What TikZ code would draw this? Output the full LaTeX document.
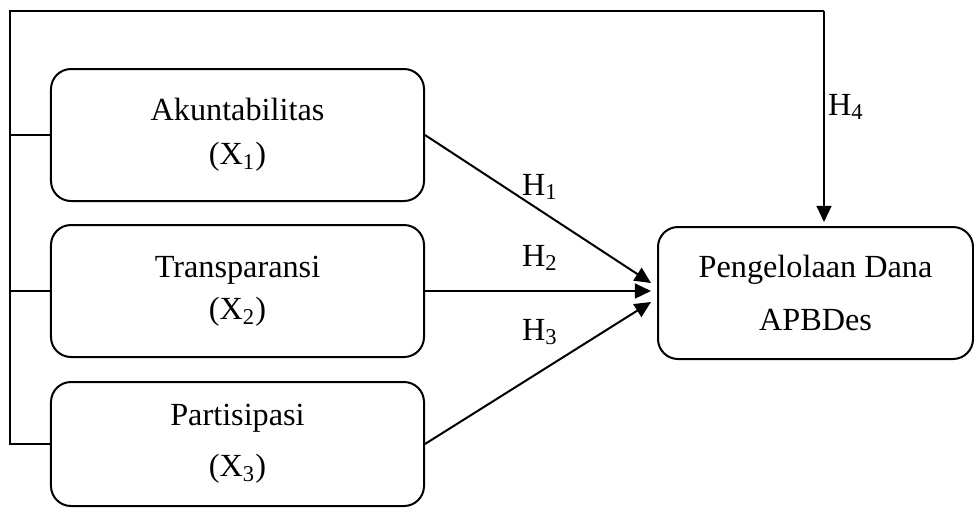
\documentclass[tikz,border=0pt]{standalone}
\usepackage{fontspec}
\setmainfont{Liberation Serif}
\usetikzlibrary{arrows.meta}
\begin{document}
\begin{tikzpicture}[x=0.4pt,y=-0.4pt,line width=0.8pt,>={Triangle[length=6.5pt,width=6pt]},
    var/.style={draw,rounded corners=8pt,align=center,minimum width=149.2pt,minimum height=52.8pt,inner sep=0pt,font=\fontsize{12.9}{15}\selectfont},
    hyp/.style={font=\fontsize{12.9}{15}\selectfont}]
    \useasboundingbox (0,0) rectangle (974,508);
    \node[var](akun) at (237.5,135){Akuntabilitas\\[2.5pt](X\textsubscript{1})};
    \node[var](trans) at (237.5,291){Transparansi\\[2pt](X\textsubscript{2})};
    \node[var,minimum height=49.6pt](part) at (237.5,444){Partisipasi\\[5.5pt](X\textsubscript{3})};
    \node[var,minimum width=126pt](peng) at (815.5,293){Pengelolaan Dana\\[6.5pt]APBDes};
    \coordinate (bus) at (10,11);
    \coordinate (turn) at (824,11);
    \coordinate (in1) at (651,283);
    \coordinate (in3) at (651,302);
    % garis bersama ke H4
    \draw (part.west) -| (bus) -- (turn);
    \draw[->,shorten >=1.6pt] (turn) -- (peng.north -| turn);
    \draw (akun.west) -- (akun.west -| bus);
    \draw (trans.west) -- (trans.west -| bus);
    % panah H1 - H3
    \draw[->] (akun.east) -- (in1);
    \draw[->] (trans.east) -- (trans.east -| in1);
    \draw[->] (part.east) -- (in3);
    \node[hyp](h1) at (540,187){H\textsubscript{1}};
    \node[hyp](h2) at (540,258){H\textsubscript{2}};
    \node[hyp](h3) at (540,332){H\textsubscript{3}};
    \node[hyp](h4) at (846,107){H\textsubscript{4}};
\end{tikzpicture}
\end{document}
